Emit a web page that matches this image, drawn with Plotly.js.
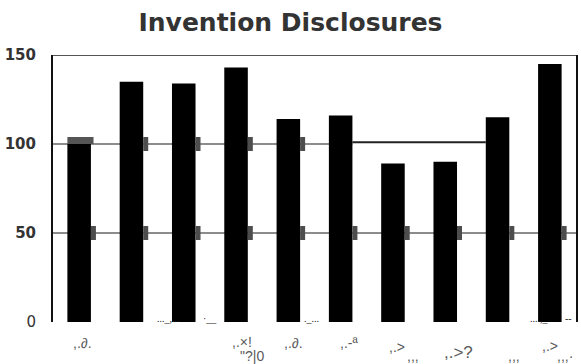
<!DOCTYPE html>
<html>
<head>
<meta charset="utf-8">
<script src="https://cdn.plot.ly/plotly-3.0.1.min.js"></script>
<style>
  html, body { margin: 0; padding: 0; background: #fff; }
  #chart { width: 581px; height: 364px; }
</style>
</head>
<body>
<div id="chart"></div>
<script>
// Yearly invention disclosure counts
const tickLabels    = [',.∂.', '', '', ',.×!', ',.∂.', ',.-ª', ',.>', ',.>?', '', ',.>'];
const tickSubLabels = ['', '', '', '"?|0', '', '', ',,,', '', ',,,', ',,,·'];
const disclosures   = [100, 135, 134, 143, 114, 116, 89, 90, 115, 145];
const yTickValues   = [0, 50, 100, 150];
const yTickText     = ['0', '<b>50</b>', '<b>100</b>', '<b>150</b>'];

// label placement (pixels)
const labelShift    = [3, 0, 0, 6, 5, 8, 4, 13, 0, 0];
const labelLift     = [-21, 0, 0, -20, -21, -21, -25, -30, 0, -24];
const subShift      = [0, 0, 0, 16, 0, 0, 20, 0, 16, 15];
const subLift       = -34;

const idx = disclosures.map((_, i) => i);
const BAR_W = 0.45;

const bars = {
  type: 'bar',
  x: idx,
  y: disclosures,
  width: BAR_W,
  marker: { color: '#000', line: { width: 0 } },
  hoverinfo: 'y'
};

const shapes = [];
const gridMark = (xa, yv, w) => ({
  type: 'rect', xref: 'x', yref: 'y',
  xsizemode: 'pixel', xanchor: xa, x0: 0, x1: w,
  ysizemode: 'pixel', yanchor: yv, y0: -7, y1: 7,
  fillcolor: '#4d4d4d', line: { width: 0 }, layer: 'above'
});
// gridline at 150
shapes.push({ type: 'line', xref: 'paper', yref: 'y', x0: 0, x1: 1, y0: 150, y1: 150,
  line: { color: '#555', width: 2.2 }, layer: 'below' });
// gridline at 50
shapes.push({ type: 'line', xref: 'paper', yref: 'y', x0: 0, x1: 1, y0: 50, y1: 50,
  line: { color: '#666', width: 1.6 }, layer: 'below' });
// gridline at 100, grey up to the sixth bar, then dark up to the ninth
shapes.push({ type: 'line', xref: 'x', yref: 'y', x0: -0.5, x1: 5 + BAR_W / 2, y0: 100, y1: 100,
  line: { color: '#666', width: 1.6 }, layer: 'below' });
shapes.push({ type: 'line', xref: 'x', yref: 'y', x0: 5 + BAR_W / 2, x1: 8 - BAR_W / 2, y0: 101, y1: 101,
  line: { color: '#222', width: 2 }, layer: 'below' });
// marks beside the bars on the gridlines
idx.forEach(i => shapes.push(gridMark(i + BAR_W / 2, 50, 5)));
idx.slice(1, 5).forEach(i => shapes.push(gridMark(i + BAR_W / 2, 100, 5)));
shapes.push({
  type: 'rect', xref: 'x', yref: 'y',
  x0: -BAR_W / 2, x1: BAR_W / 2 + 0.05,
  ysizemode: 'pixel', yanchor: 100, y0: 0, y1: 7,
  fillcolor: '#555', line: { width: 0 }, layer: 'above'
});

const annotations = [];
const lblFont = { family: 'Liberation Sans, Arial, sans-serif', size: 14, color: '#5a5a5a' };
idx.forEach(i => {
  if (tickLabels[i]) annotations.push({
    xref: 'x', yref: 'paper', x: i, y: 0, yanchor: 'middle', showarrow: false,
    text: tickLabels[i], xshift: labelShift[i], yshift: labelLift[i],
    font: i === 7 ? Object.assign({}, lblFont, { size: 17 }) : lblFont
  });
  if (tickSubLabels[i]) annotations.push({
    xref: 'x', yref: 'paper', x: i, y: 0, yanchor: 'middle', showarrow: false,
    text: tickSubLabels[i], xshift: subShift[i], yshift: subLift, font: lblFont
  });
});
// small marks along the base line
const baseNotes = [
  { x: 1.7, t: '..._,...' }, { x: 2.5, t: '·__' },
  { x: 4.45, t: '._...' }, { x: 8.8, t: '....,_' }, { x: 9.35, t: '--' }
];
baseNotes.forEach(n => annotations.push({
  xref: 'x', yref: 'paper', x: n.x, y: 0, yanchor: 'middle', showarrow: false,
  text: n.t, yshift: 4, font: { family: 'Liberation Serif, serif', size: 10, color: '#222' }
}));

const layout = {
  width: 581, height: 364,
  margin: { l: 53, r: 5, t: 55, b: 42 },
  paper_bgcolor: '#fff', plot_bgcolor: '#fff',
  font: { family: 'Liberation Sans, Arial, sans-serif', color: '#333' },
  title: {
    text: '<b>Invention Disclosures</b>',
    font: { family: 'DejaVu Sans, sans-serif', size: 25, color: '#333' },
    x: 0.5, xanchor: 'center', y: 0.94, yanchor: 'middle'
  },
  showlegend: false,
  bargap: 0.55,
  xaxis: {
    range: [-0.5, 9.5], showgrid: false, zeroline: false,
    showticklabels: false, ticks: '', showline: false, fixedrange: true
  },
  yaxis: {
    range: [0, 150], tickvals: yTickValues, ticktext: yTickText,
    showgrid: false, zeroline: false, ticks: '',
    showline: true, mirror: true, linecolor: '#111', linewidth: 2,
    tickfont: { family: 'DejaVu Sans, sans-serif', size: 15, color: '#333' },
    ticklabelstandoff: 12, fixedrange: true
  },
  shapes: shapes,
  annotations: annotations
};

Plotly.newPlot('chart', [bars], layout, { displayModeBar: false, staticPlot: true });
</script>
</body>
</html>
